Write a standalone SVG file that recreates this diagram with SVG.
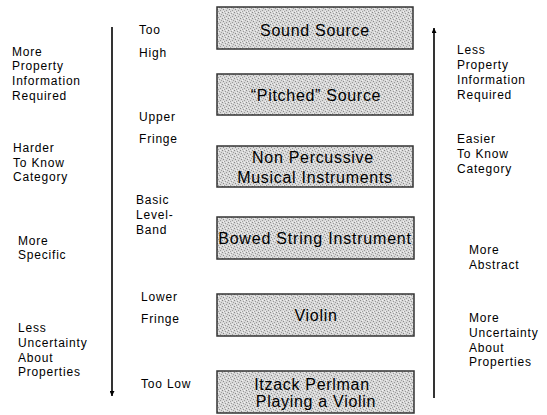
<svg xmlns="http://www.w3.org/2000/svg" width="547" height="415" viewBox="0 0 547 415">
<defs>
<pattern id="stip" width="6" height="6" patternUnits="userSpaceOnUse">
<rect width="6" height="6" fill="#d8d8d8"/>
<rect x="0" y="0" width="1" height="1" fill="#8a8a8a"/>
<rect x="3" y="1" width="1" height="1" fill="#9a9a9a"/>
<rect x="1" y="3" width="1" height="1" fill="#8a8a8a"/>
<rect x="4" y="4" width="1" height="1" fill="#9a9a9a"/>
<rect x="5" y="2" width="1" height="1" fill="#a0a0a0"/>
<rect x="2" y="5" width="1" height="1" fill="#a0a0a0"/>
<rect x="4" y="0" width="1" height="1" fill="#f2f2f2"/>
<rect x="1" y="5" width="1" height="1" fill="#f2f2f2"/>
<rect x="2" y="2" width="1" height="1" fill="#f2f2f2"/>
</pattern>
<marker id="ah" viewBox="0 0 10 10" refX="10" refY="5" markerWidth="5" markerHeight="5" orient="auto" markerUnits="userSpaceOnUse">
<path d="M0,0 L10,5 L0,10 z" fill="#000"/>
</marker>
</defs>
<style>
.box{fill:url(#stip);stroke:#333;stroke-width:1.5}
.bt{font-family:"Liberation Sans",Arial,sans-serif;font-size:16px;letter-spacing:0.7px;fill:#000;text-anchor:middle}
.lbl{font-family:"Liberation Sans",Arial,sans-serif;font-size:12px;letter-spacing:0.8px;fill:#000}
.conn{stroke:#000;stroke-width:1.6;fill:none}
</style>
<rect width="547" height="415" fill="#fff"/>
<g id="connectors">
<line class="conn" x1="112" y1="27" x2="112" y2="396" marker-end="url(#ah)"/>
<line class="conn" x1="434" y1="398" x2="434" y2="28" marker-end="url(#ah)"/>
</g>
<g id="n1"><rect class="box" x="217" y="7" width="196" height="42"/><text class="bt" x="315" y="36">Sound Source</text></g>
<g id="n2"><rect class="box" x="217" y="74" width="196" height="41"/><text class="bt" x="316" y="101">“Pitched” Source</text></g>
<g id="n3"><rect class="box" x="217" y="146" width="196" height="41"/><text class="bt" x="313" y="163">Non Percussive</text><text class="bt" x="315" y="183">Musical Instruments</text></g>
<g id="n4"><rect class="box" x="217" y="217" width="197" height="42"/><text class="bt" x="315" y="244" style="letter-spacing:0.8px">Bowed String Instrument</text></g>
<g id="n5"><rect class="box" x="217" y="294" width="197" height="42"/><text class="bt" x="316" y="321">Violin</text></g>
<g id="n6"><rect class="box" x="217" y="371" width="197" height="42"/><text class="bt" x="312" y="390">Itzack Perlman</text><text class="bt" x="316" y="407">Playing a Violin</text></g>
<g id="left-labels">
<text class="lbl" x="12" y="56">More</text>
<text class="lbl" x="12" y="70">Property</text>
<text class="lbl" x="12" y="85">Information</text>
<text class="lbl" x="12" y="100">Required</text>
<text class="lbl" x="13" y="152">Harder</text>
<text class="lbl" x="13" y="167">To Know</text>
<text class="lbl" x="13" y="181">Category</text>
<text class="lbl" x="18" y="245">More</text>
<text class="lbl" x="18" y="259">Specific</text>
<text class="lbl" x="18" y="332">Less</text>
<text class="lbl" x="18" y="347">Uncertainty</text>
<text class="lbl" x="18" y="362">About</text>
<text class="lbl" x="18" y="376">Properties</text>
</g>
<g id="mid-labels">
<text class="lbl" x="139" y="34">Too</text>
<text class="lbl" x="139" y="57">High</text>
<text class="lbl" x="139" y="121">Upper</text>
<text class="lbl" x="139" y="143">Fringe</text>
<text class="lbl" x="136" y="204">Basic</text>
<text class="lbl" x="136" y="219">Level-</text>
<text class="lbl" x="136" y="234">Band</text>
<text class="lbl" x="141" y="301">Lower</text>
<text class="lbl" x="141" y="323">Fringe</text>
<text class="lbl" x="141" y="388">Too Low</text>
</g>
<g id="right-labels">
<text class="lbl" x="457" y="54">Less</text>
<text class="lbl" x="457" y="69">Property</text>
<text class="lbl" x="457" y="84">Information</text>
<text class="lbl" x="457" y="99">Required</text>
<text class="lbl" x="457" y="143">Easier</text>
<text class="lbl" x="457" y="158">To Know</text>
<text class="lbl" x="457" y="173">Category</text>
<text class="lbl" x="469" y="254">More</text>
<text class="lbl" x="469" y="269">Abstract</text>
<text class="lbl" x="469" y="322">More</text>
<text class="lbl" x="469" y="337">Uncertainty</text>
<text class="lbl" x="469" y="352">About</text>
<text class="lbl" x="469" y="366">Properties</text>
</g>
</svg>
